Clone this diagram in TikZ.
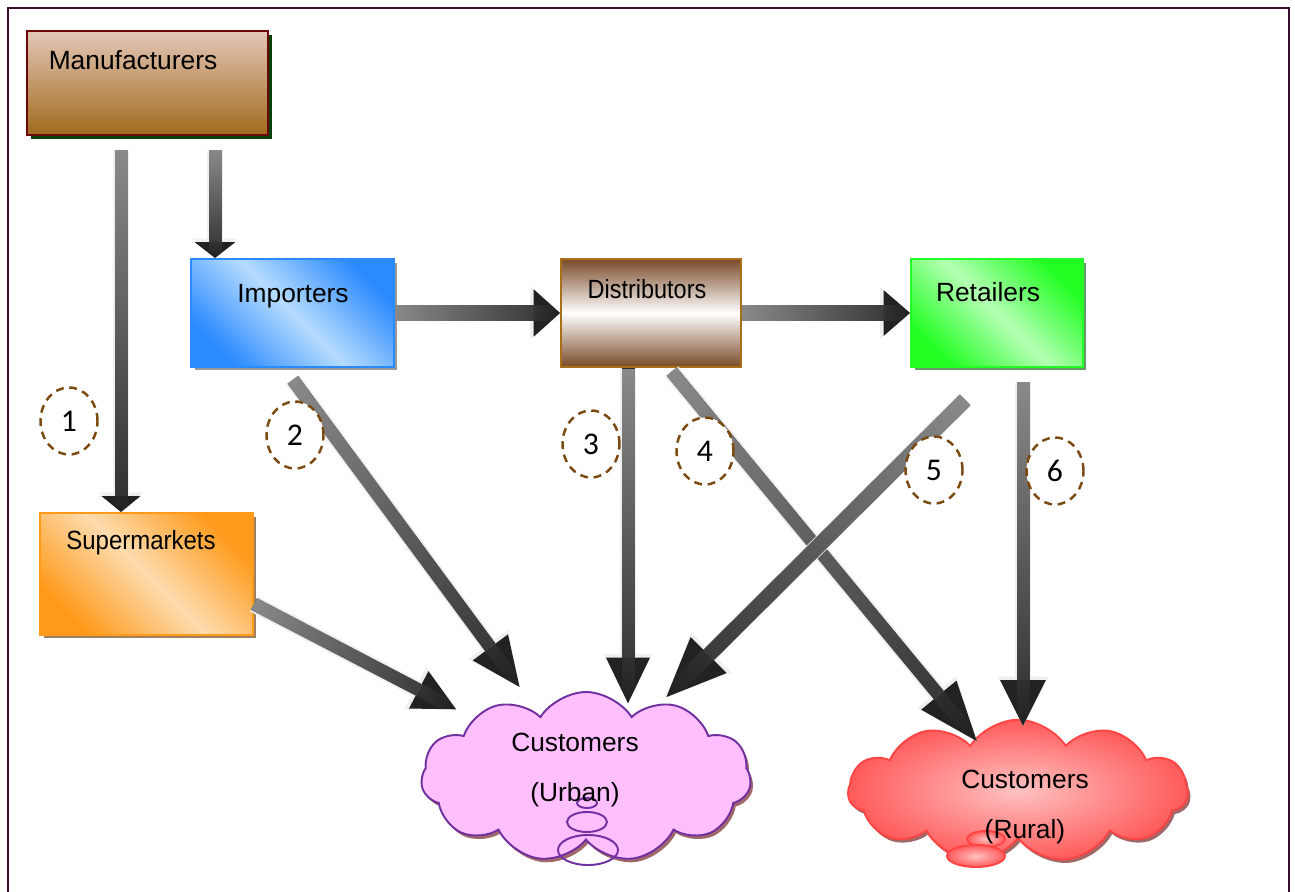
\documentclass[tikz,border=0pt]{standalone}
\usepackage{fontspec}
\setmainfont{Liberation Sans}
\newfontfamily\numfont{Carlito}
\usepackage{tikz}
\usetikzlibrary{arrows.meta}
\usetikzlibrary{shapes.geometric,shapes.symbols}
\usetikzlibrary{shadows,fadings}

\definecolor{framepurple}{HTML}{3C0C2C}
\definecolor{mfgtop}{HTML}{E4C7B8}
\definecolor{mfgbot}{HTML}{A06A1C}
\definecolor{mfgline}{HTML}{6A0808}
\definecolor{mfgshadow}{HTML}{0A400A}
\definecolor{impdark}{HTML}{2A8AFF}
\definecolor{implight}{HTML}{B6DCFF}
\definecolor{distdark}{HTML}{7A4A28}
\definecolor{distline}{HTML}{A87018}
\definecolor{retdark}{HTML}{22FF22}
\definecolor{retlight}{HTML}{B4FFB4}
\definecolor{supdark}{HTML}{FF9A1A}
\definecolor{suplight}{HTML}{FDDCAE}
\definecolor{urbfill}{HTML}{FFBFFF}
\definecolor{urbline}{HTML}{7030A0}
\definecolor{rurdark}{HTML}{FF5A5A}
\definecolor{rurlight}{HTML}{FFC2C2}
\definecolor{rurline}{HTML}{FF4444}
\definecolor{cloudshadow}{HTML}{A06868}
\definecolor{ringbrown}{HTML}{7A4A10}
\definecolor{flowbase}{HTML}{2E2E2E}
\definecolor{flowlight}{HTML}{8A8A8A}
\definecolor{flowdark}{HTML}{222222}
\definecolor{halo}{HTML}{EFEFEF}

% light at the tail, gone at the head
\begin{tikzfadingfrompicture}[name=tailfade]
  \path (-20,-20) rectangle (20,20);
  \fill[transparent!0] (-20,-20) rectangle (-1,20);
  \shade[left color=transparent!0, right color=transparent!100] (-1,-20) rectangle (1,20);
\end{tikzfadingfrompicture}

\tikzset{
  box/.style={rectangle, line width=1.1pt, inner sep=0pt},
  boxtext/.style={font=\fontsize{15}{18}\selectfont, inner sep=0pt},
  numring/.style={ellipse, draw=ringbrown, line width=1.4pt, dash pattern=on 4.5pt off 3.2pt,
    fill=white, minimum width=1.14cm, minimum height=1.34cm, inner sep=0pt,
    font=\numfont\fontsize{18}{20}\selectfont},
  flow/.style 2 args={draw=flowbase, line width=7.4pt,
    -{Triangle[length=#1, width=#2, line width=0pt, color=flowdark]},
    preaction={draw=halo, line width=9.6pt,
      -{Triangle[length=#1+2pt, width=#2+3pt, line width=0pt]}}},
  fade/.style n args={4}{postaction={draw=flowlight, -, path fading=tailfade, fit fading=false,
    fading transform={shift={(#1,#2)}, rotate=#3, xscale=#4}}},
}

\begin{document}
\begin{tikzpicture}[x=0.02cm, y=-0.02cm]
\useasboundingbox (0,0) rectangle (1295,892);
\draw[framepurple, line width=1.2pt] (8,892) -- (8,8) -- (1289,8) -- (1289,892);

% boxes
\node[box, minimum width=4.82cm, minimum height=2.08cm, draw=mfgline,
  top color=mfgtop, bottom color=mfgbot,
  drop shadow={shadow xshift=0.08cm, shadow yshift=-0.08cm, fill=mfgshadow, opacity=1}]
  (mfg) at (147.5,83) {};
\node[box, minimum width=4.06cm, minimum height=2.16cm, draw=impdark,
  top color=impdark, bottom color=impdark, middle color=implight, shading angle=-45,
  drop shadow={shadow xshift=0.07cm, shadow yshift=-0.07cm, fill=gray!80, opacity=1}]
  (imp) at (292.5,313) {};
\node[box, minimum width=3.6cm, minimum height=2.16cm, draw=distline,
  top color=distdark, bottom color=distdark, middle color=white]
  (dist) at (651,313) {};
\node[box, minimum width=3.44cm, minimum height=2.16cm, draw=retdark,
  top color=retdark, bottom color=retdark, middle color=retlight, shading angle=-45,
  drop shadow={shadow xshift=0.07cm, shadow yshift=-0.07cm, fill=green!20!gray, opacity=1}]
  (ret) at (997,313) {};
\node[box, minimum width=4.26cm, minimum height=2.44cm, draw=supdark,
  top color=supdark, bottom color=supdark, middle color=suplight, shading angle=-45,
  drop shadow={shadow xshift=0.07cm, shadow yshift=-0.07cm, fill=brown!50!gray, opacity=1}]
  (sup) at (146.5,574) {};

\node[boxtext] (mfgtxt) at (133,60) {Manufacturers};
\node[boxtext] (imptxt) at (293,296) {Importers};
\node[boxtext] (disttxt) at (647,289) {\scalebox{0.89}[1]{Distributors}};
\node[boxtext] (rettxt) at (988,292) {Retailers};
\node[boxtext] (suptxt) at (141,543) {\scalebox{0.91}[1]{Supermarkets}};

% clouds
\node[cloud, cloud puffs=11, cloud puff arc=115, cloud ignores aspect,
  minimum width=6.6cm, minimum height=3.4cm, draw=urbline, line width=1.1pt, fill=urbfill,
  drop shadow={shadow xshift=0.05cm, shadow yshift=-0.07cm, fill=cloudshadow, opacity=1}]
  (urban) at (586,777) {};
\draw[urbline, line width=1.1pt] (587,803) ellipse (10 and 5)
  (587,822) ellipse (20 and 10) (588,850) ellipse (30 and 15);
\node[cloud, cloud puffs=11, cloud puff arc=115, cloud ignores aspect,
  minimum width=6.8cm, minimum height=2.85cm, draw=rurline, line width=1.1pt,
  inner color=rurlight, outer color=rurdark,
  drop shadow={shadow xshift=0.05cm, shadow yshift=-0.07cm, fill=cloudshadow, opacity=1}]
  (rural) at (1018,791) {};
\draw[rurline, line width=1.1pt, inner color=rurlight, outer color=rurdark]
  (986,839) ellipse (19 and 8);
\draw[rurline, line width=1.1pt, inner color=rurlight, outer color=rurdark]
  (976,856) ellipse (29 and 11);

\node[boxtext] (urbtxt) at (575,742) {Customers};
\node[boxtext] (urbsub) at (575,795) {(Urban)};
\node[boxtext] (rurtxt) at (1025,779) {Customers};
\node[boxtext] (rursub) at (1025,832) {(Rural)};

% flows
\coordinate (a1tail) at (121,150);
\coordinate (a2tail) at (215,150);
\coordinate (a5tail) at (293,380);
\coordinate (a6tail) at (628,368);
\coordinate (a7tail) at (672,372);
\coordinate (a8tail) at (965,400);
\coordinate (a9tail) at (1023,382);
\coordinate (a10tail) at (254,604);

\draw[flow={9pt}{22pt}, fade={121}{331}{-90}{3.62}] (a1tail) -- (sup.north -| a1tail);
\draw[flow={9pt}{23pt}, fade={215}{204}{-90}{1.08}] (a2tail) -- (imp.north -| a2tail);
\draw[flow={15pt}{27pt}, line width=9pt, fade={477}{313}{0}{1.67}] (imp.east) -- (dist.west);
\draw[flow={15pt}{26pt}, line width=9pt, fade={826}{313}{0}{1.7}] (dist.east) -- (ret.west);
\draw[flow={24pt}{24pt}, shorten >=11pt, fade={353}{655}{-27.4}{2.24}] (a10tail) -- (urban);
\draw[flow={28pt}{25pt}, shorten >=20pt, fade={406}{532}{-53.3}{3.8}] (a5tail) -- (urban);
\draw[flow={26pt}{25pt}, shorten >=-7pt, fade={628}{535}{-90}{3.34}] (a6tail) -- (a6tail |- urban.north);
\draw[flow={34pt}{26pt}, shorten >=-2pt, fade={827}{551}{-49}{4.74}] (a7tail) -- (rural);
\draw[flow={34pt}{29pt}, line width=8.5pt, shorten >=5pt, fade={814}{545}{-136}{4.19}] (a8tail) -- (urban);
\draw[flow={26pt}{26pt}, shorten >=-4pt, fade={1023}{553}{-90}{3.43}] (a9tail) -- (a9tail |- rural.north);

% numbers
\node[numring] (n1) at (69,421) {1};
\node[numring] (n2) at (295,435) {2};
\node[numring] (n3) at (591,444) {3};
\node[numring] (n4) at (705,451) {4};
\node[numring] (n5) at (934,470) {5};
\node[numring] (n6) at (1055,471) {6};
\end{tikzpicture}
\end{document}
